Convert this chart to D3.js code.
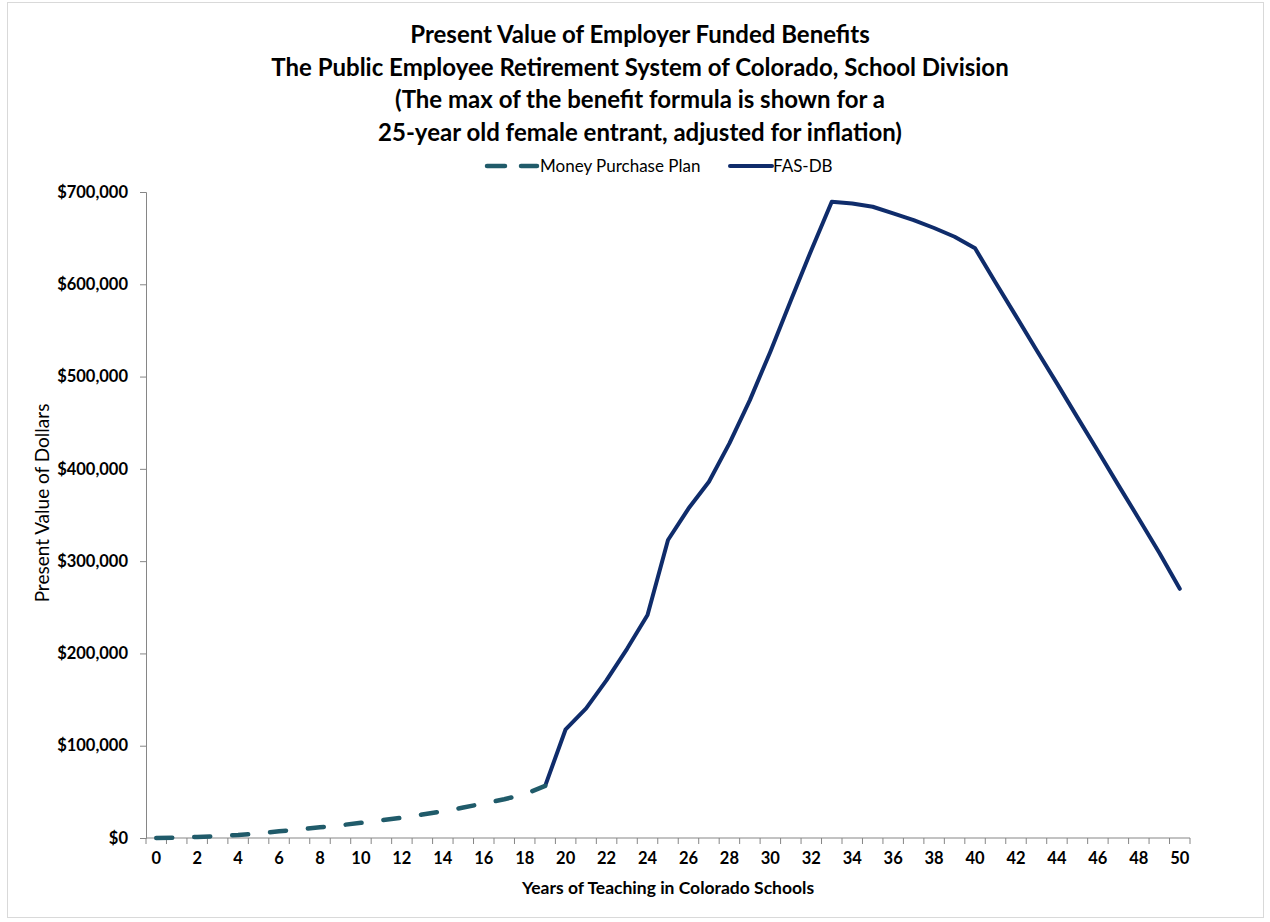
<!DOCTYPE html>
<html><head><meta charset="utf-8">
<script src="https://cdn.jsdelivr.net/npm/d3@7"></script>
<style>
html,body{margin:0;padding:0;background:#fff;}
svg{display:block;}
text{font-family:Lato,"Open Sans",sans-serif;fill:#000;}
</style></head>
<body>
<svg id="chart" width="1270" height="922"></svg>
<script>
const titleLines = [
  "Present Value of Employer Funded Benefits",
  "The Public Employee Retirement System of Colorado, School Division",
  "(The max of the benefit formula is shown for a",
  "25-year old female entrant, adjusted for inflation)"
];
const years = d3.range(0, 51);
const xTickLabels = d3.range(0, 51, 2);
const yTicks = [0, 100000, 200000, 300000, 400000, 500000, 600000, 700000];
const seriesNames = ["Money Purchase Plan", "FAS-DB"];
const mppYears = d3.range(0, 20);
const mppValues = [0, 500, 1200, 2000, 3200, 5000, 7200, 9300, 11600, 13800, 16500, 19200, 22000, 25500, 29000, 33000, 37500, 42000, 47500, 56500];
const fasYears = d3.range(19, 51);
const fasValues = [56500, 117800, 140500, 171000, 205000, 241600, 322900, 357000, 386000, 427600, 474500, 527000, 582500, 637000, 689400, 687600, 684000, 676800, 669600, 661000, 651500, 639000, 602000, 565500, 528700, 492600, 455800, 419300, 382400, 346000, 309000, 270000];

const svg = d3.select("#chart");
svg.append("rect").attr("x", 7.5).attr("y", 2.5).attr("width", 1256).attr("height", 915)
  .attr("fill", "#fff").attr("stroke", "#d9d9d9").attr("stroke-width", 1);

const x = d3.scaleBand().domain(years).range([146, 1190]);
const xc = d => x(d) + x.bandwidth() / 2;
const y = d3.scaleLinear().domain([0, 700000]).range([838, 192]);

// Title
const tg = svg.append("g");
titleLines.forEach((t, i) => {
  tg.append("text").attr("x", 640).attr("y", 43 + i * 32.7)
    .attr("text-anchor", "middle").attr("font-size", 24).attr("font-weight", "bold").text(t);
});

// Y axis
const yAxis = d3.axisLeft(y).tickValues(yTicks).tickSize(6).tickPadding(12)
  .tickFormat(d => "$" + d3.format(",")(d));
const gy = svg.append("g").attr("transform", "translate(146,0)").call(yAxis);
gy.select(".domain").attr("stroke", "#868686");
gy.selectAll(".tick line").attr("stroke", "#868686");
gy.selectAll(".tick text").attr("font-size", 16.5).attr("font-weight", "bold")
  .attr("font-family", "Lato, sans-serif").attr("fill", "#000");

// X axis
const gx = svg.append("g").attr("transform", "translate(0,838)");
gx.append("line").attr("x1", 146).attr("x2", 1190).attr("y1", 0).attr("y2", 0).attr("stroke", "#868686");
const edges = years.map(d => x(d)).concat([x(50) + x.bandwidth()]);
gx.selectAll("line.tk").data(edges).join("line").attr("class", "tk")
  .attr("x1", d => d).attr("x2", d => d).attr("y1", 0).attr("y2", 6).attr("stroke", "#868686");
gx.selectAll("text.lbl").data(xTickLabels).join("text").attr("class", "lbl")
  .attr("x", d => xc(d)).attr("y", 26).attr("text-anchor", "middle")
  .attr("font-size", 16.5).attr("font-weight", "bold").text(d => d);

// Axis titles
svg.append("text").attr("x", 668).attr("y", 894).attr("text-anchor", "middle")
  .attr("font-size", 17.5).attr("font-weight", "bold").text("Years of Teaching in Colorado Schools");
svg.append("text").attr("transform", "translate(49,503) rotate(-90)").attr("text-anchor", "middle")
  .attr("font-size", 19).text("Present Value of Dollars");

// Lines
const line = d3.line().x(d => xc(d[0])).y(d => y(d[1]));
svg.append("path").datum(fasYears.map((d, i) => [d, fasValues[i]]))
  .attr("d", line).attr("fill", "none").attr("stroke", "#0f2c6b").attr("stroke-width", 4)
  .attr("stroke-linejoin", "round").attr("stroke-linecap", "round");
svg.append("path").datum(mppYears.map((d, i) => [d, mppValues[i]]))
  .attr("d", line).attr("fill", "none").attr("stroke", "#205b6a").attr("stroke-width", 4.5)
  .attr("stroke-dasharray", "16,22").attr("stroke-linecap", "round").attr("stroke-linejoin", "round");

// Legend
const lg = svg.append("g").attr("transform", "translate(0,166)");
lg.append("line").attr("x1", 487).attr("x2", 537).attr("y1", 0).attr("y2", 0)
  .attr("stroke", "#205b6a").attr("stroke-width", 4.5).attr("stroke-dasharray", "18,16").attr("stroke-linecap", "round");
lg.append("text").attr("x", 540).attr("y", 6).attr("font-size", 17).text(seriesNames[0]);
lg.append("line").attr("x1", 730).attr("x2", 772).attr("y1", 0).attr("y2", 0)
  .attr("stroke", "#0f2c6b").attr("stroke-width", 4).attr("stroke-linecap", "round");
lg.append("text").attr("x", 773).attr("y", 6).attr("font-size", 17).text(seriesNames[1]);
</script>
</body></html>
